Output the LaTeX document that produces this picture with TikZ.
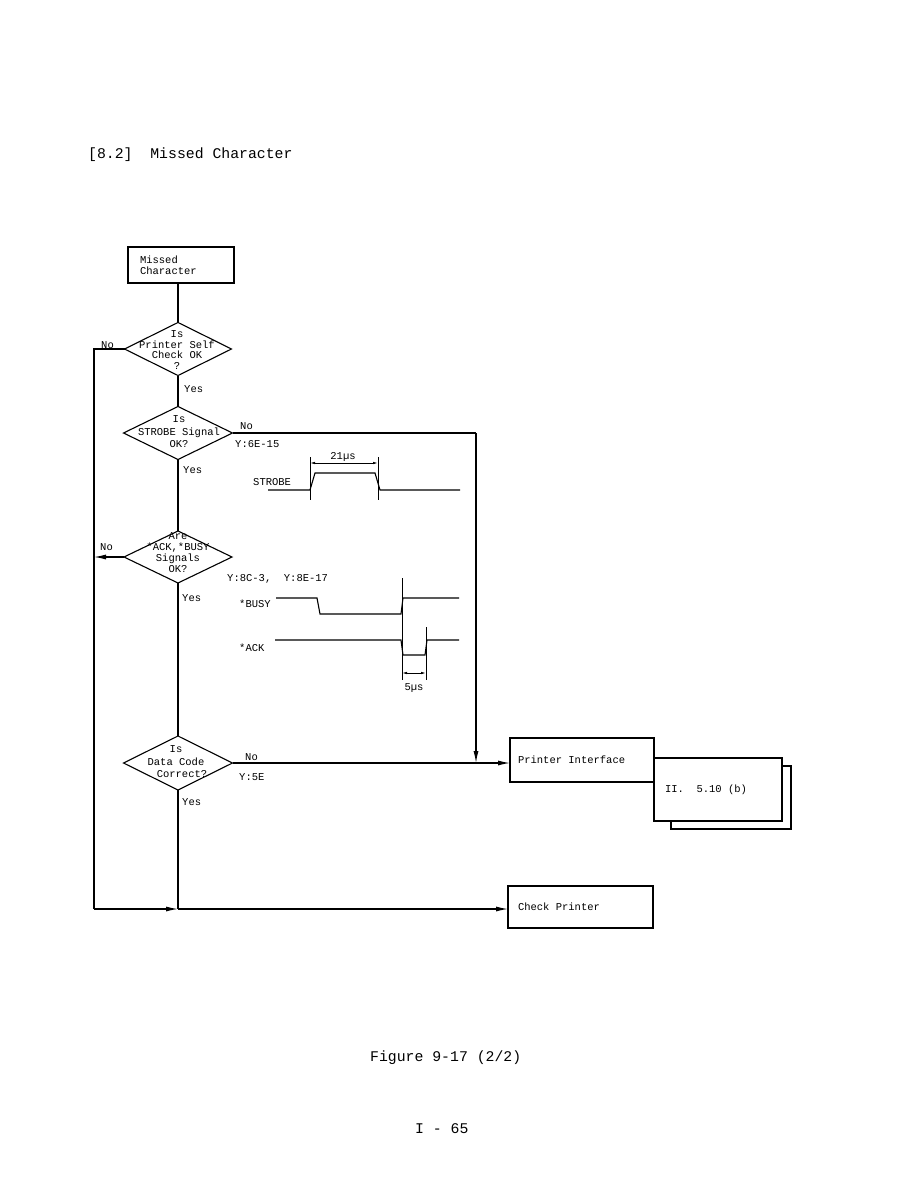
\documentclass[tikz,border=0pt]{standalone}
\usepackage{fontspec}
\setmainfont{Liberation Mono}
\usetikzlibrary{shapes.geometric,arrows.meta}
\newcommand\fixspaces{\spaceskip=0pt\relax\xspaceskip=0pt\relax}
\begin{document}
\begin{tikzpicture}[x=1pt,y=-1pt,
  every node/.style={font=\fontsize{10.5}{11.5}\selectfont},
  execute at begin node={\fixspaces},
  ln/.style={line width=1.1pt},
  arr/.style={ln,-{Latex[length=12pt,width=5pt]}},
  dimarr/.style={line width=0.8pt,{Latex[length=5pt,width=2.5pt]}-{Latex[length=5pt,width=2.5pt]}},
  dia/.style={draw,line width=1.1pt,diamond,inner sep=0pt,outer sep=0pt},
  box/.style={draw,line width=1.1pt,align=left,inner ysep=0pt,outer sep=0pt},
  plainbox/.style={draw,line width=1.1pt,inner sep=0pt,outer sep=0pt},
  lab/.style={anchor=base west,inner sep=0pt},
  clab/.style={anchor=base,inner sep=0pt},
  wave/.style={line width=1.1pt}]
\useasboundingbox (0,0) rectangle (919,1188);

% title
\node[lab,font=\fontsize{14.8}{16}\selectfont] (title) at (88,158) {[8.2]~~Missed Character};

% boxes
\node[box,minimum height=36pt,text width=82pt,inner xsep=12pt] (mc) at (181,265) {Missed\\Character};
\node[box,minimum height=44pt,text width=128pt,inner xsep=8pt] (pi) at (582,760) {Printer Interface};
\node[plainbox,minimum width=120pt,minimum height=63pt] (iib) at (731,797.5) {};
\node[box,fill=white,minimum height=63pt,text width=106pt,inner xsep=11pt] (ii) at (718,789.5) {II.~~5.10 (b)};
\node[box,minimum height=42pt,text width=125pt,inner xsep=10pt] (cp) at (580.5,907) {Check Printer};

% decisions
\node[dia,minimum width=107pt,minimum height=53pt] (d1) at (178,349) {};
\node[align=center,font=\fontsize{10.5}{10.5}\selectfont] (t1) at (177,350) {Is\\Printer Self\\Check OK\\?};
\node[dia,minimum width=109pt,minimum height=53pt] (d2) at (178,433) {};
\node[align=center,font=\fontsize{10.5}{12.5}\selectfont] (t2) at (179,432) {Is\\STROBE Signal\\OK?};
\node[dia,minimum width=108pt,minimum height=52pt] (d3) at (178,557) {};
\node[align=center,font=\fontsize{10.5}{11}\selectfont] (t3) at (178,553) {Are\\*ACK,*BUSY\\Signals\\OK?};
\node[dia,minimum width=109pt,minimum height=54pt] (d4) at (178,763) {};
\node[align=center,font=\fontsize{10.5}{12.5}\selectfont] (t4) at (176,762) {Is\\Data Code\\\hspace*{12pt}Correct?};

% labels
\node[lab] (no1) at (101,348) {No};
\node[lab] (yes1) at (184,392) {Yes};
\node[lab] (no2) at (240,429) {No};
\node[lab] (y2) at (235,447) {Y:6E-15};
\node[lab] (yes2) at (183,473) {Yes};
\node[lab] (no3) at (100,550) {No};
\node[lab] (y3) at (227,581) {Y:8C-3,~~Y:8E-17};
\node[lab] (yes3) at (182,601) {Yes};
\node[lab] (no4) at (245,760) {No};
\node[lab] (y4) at (239,780) {Y:5E};
\node[lab] (yes4) at (182,805) {Yes};

% connectors
\coordinate (L1) at (94,349);
\coordinate (L2) at (94,909);
\coordinate (j) at (d4.south |- L2);
\coordinate (R1) at (476,433);
\coordinate (R2) at (476,763);
\draw[ln] (d1.north |- mc.south) -- (d1.north);
\draw[ln] (d1.west) -- (L1) -- (L2);
\draw[arr] (L2) -- (j);
\draw[ln] (d1.south) -- (d2.north);
\draw[ln] (d2.east) -- (R1);
\draw[arr] (R1) -- (R2);
\draw[ln] (d2.south) -- (d3.north);
\draw[arr] (d3.west) -- (d3.west -| L1);
\draw[ln] (d3.south) -- (d4.north);
\draw[arr] (d4.east) -- (d4.east -| pi.west);
\draw[ln] (d4.south) -- (j);
\draw[arr] (j) -- (j -| cp.west);

% STROBE timing
\node[lab] (strobe) at (253,485) {STROBE};
\draw[wave] (268,490) -- (310,490) -- (315,473) -- (375,473) -- (380,490) -- (460,490);
\draw[line width=0.8pt] (310,457) -- (310,500);
\draw[line width=0.8pt] (378,457) -- (378,500);
\draw[dimarr] (310,463) -- (378,463);
\node[clab] (t21) at (343,459) {21µs};

% BUSY / ACK timing
\node[lab] (busy) at (239,607) {*BUSY};
\node[lab] (ack) at (239,651) {*ACK};
\draw[wave] (276,598) -- (317,598) -- (320,614) -- (401,614) -- (403,598) -- (459,598);
\draw[wave] (275,640) -- (401,640) -- (403,655) -- (425,655) -- (427,640) -- (459,640);
\draw[line width=0.8pt] (402,578) -- (402,680);
\draw[line width=0.8pt] (426,627) -- (426,680);
\draw[dimarr] (402,673) -- (426,673);
\node[clab] (t5) at (414,690) {5µs};

% captions
\node[lab,font=\fontsize{14.8}{16}\selectfont] (fig) at (370,1061) {Figure 9-17 (2/2)};
\node[lab,font=\fontsize{14.8}{16}\selectfont] (page) at (415,1133) {I - 65};
\end{tikzpicture}
\end{document}
